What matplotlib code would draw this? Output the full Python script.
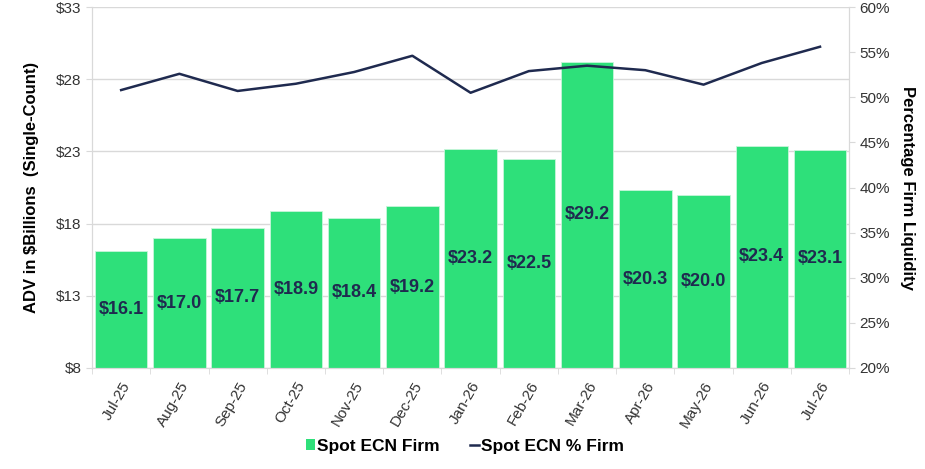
import matplotlib
matplotlib.use("Agg")
import matplotlib.pyplot as plt
from matplotlib.patches import Patch
from matplotlib.lines import Line2D

# data
months = ["Jul-25", "Aug-25", "Sep-25", "Oct-25", "Nov-25", "Dec-25", "Jan-26",
          "Feb-26", "Mar-26", "Apr-26", "May-26", "Jun-26", "Jul-26"]
adv = [16.1, 17.0, 17.7, 18.9, 18.4, 19.2, 23.2, 22.5, 29.2, 20.3, 20.0, 23.4, 23.1]
pct_firm = [50.8, 52.6, 50.7, 51.5, 52.8, 54.6, 50.5, 52.9, 53.5, 53.0, 51.4, 53.8, 55.6]
left_ticks = [8, 13, 18, 23, 28, 33]
right_ticks = [20, 25, 30, 35, 40, 45, 50, 55, 60]

green = "#2ee07a"
navy = "#1f2a4f"
gray = "#d9d9d9"
txt = "#333333"

plt.rcParams["font.family"] = ["Liberation Sans", "DejaVu Sans"]

fig = plt.figure(figsize=(9.25, 4.69), dpi=100)
ax = fig.add_axes([0.0995, 0.2154, 0.8185, 0.7696])
ax2 = ax.twinx()

x = list(range(len(months)))
bars = ax.bar(x, adv, width=0.9, color=green, edgecolor="#c8f5da", linewidth=0.6, zorder=2)
for xi, v in zip(x, adv):
    ax.text(xi, (8 + v) / 2, "${:.1f}".format(v), ha="center", va="center",
            fontsize=13, fontweight="bold", color=navy, zorder=3)

ax.set_ylim(8, 33)
ax.set_yticks(left_ticks)
ax.set_yticklabels(["${}".format(t) for t in left_ticks])
ax.set_xlim(-0.5, len(months) - 0.5)
ax.set_xticks(x)
ax.set_xticklabels(months, rotation=60, ha="right", rotation_mode="anchor")
ax.set_xticks([i - 0.5 for i in range(len(months) + 1)], minor=True)
ax.tick_params(axis="x", which="major", length=0, pad=8, labelsize=11, labelcolor=txt)
ax.tick_params(axis="x", which="minor", length=4, color=gray)
ax.tick_params(axis="y", length=4, color=gray, labelsize=11, labelcolor=txt)
ax.grid(axis="y", color=gray, linewidth=1, zorder=0)
ax.set_axisbelow(True)
ax.set_ylabel("ADV in $Billions  (Single-Count)", fontsize=12, fontweight="bold", labelpad=12)

ax2.plot(x, pct_firm, color=navy, linewidth=1.8, zorder=4)
ax2.set_ylim(20, 60)
ax2.set_yticks(right_ticks)
ax2.set_yticklabels(["{}%".format(t) for t in right_ticks])
ax2.tick_params(axis="y", length=4, color=gray, labelsize=11, labelcolor=txt)
ax2.set_ylabel("Percentage Firm Liquidity", fontsize=12, fontweight="bold",
               rotation=-90, labelpad=18)

for a in (ax, ax2):
    for s in a.spines.values():
        s.set_color(gray)
    a.spines["top"].set_visible(False)

handles = [Patch(facecolor=green, edgecolor="none"),
           Line2D([0], [0], color=navy, linewidth=1.8)]
fig.legend(handles, ["Spot ECN Firm", "Spot ECN % Firm"], loc="center",
           bbox_to_anchor=(465 / 925, 1 - 446 / 469), ncol=2, frameon=False,
           prop={"weight": "bold", "size": 12.5}, handlelength=0.5, handleheight=0.6,
           handletextpad=0.1, columnspacing=1.8)

fig.savefig("out.png", dpi=100)
